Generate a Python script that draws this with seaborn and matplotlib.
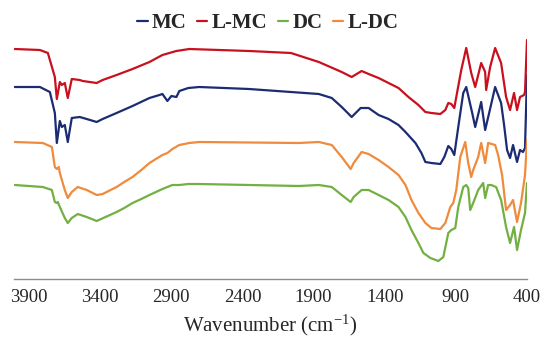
import pandas as pd
import matplotlib
matplotlib.use('Agg')
from matplotlib import pyplot as plt
import seaborn as sns


# FTIR spectra (stacked, arbitrary transmittance units)
mc_wn = [4000, 3823, 3753, 3718, 3704, 3683, 3669, 3648, 3627, 3599, 3543, 3494,
         3424, 3382, 3284, 3172, 3053, 2983, 2962, 2927, 2899, 2864, 2843, 2780,
         2703, 2353, 2059, 1863, 1772, 1702, 1632, 1569, 1513, 1443, 1373, 1303,
         1254, 1184, 1142, 1114, 1072, 1009, 981, 953, 932, 911, 883, 848, 827,
         785, 764, 722, 694, 666, 624, 582, 561, 540, 519, 498, 470, 449, 428,
         414, 400]
mc_t = [192, 192, 187, 166, 136, 158, 152, 154, 137, 161, 162, 160,
        157, 160, 166, 173, 181, 184, 185, 178, 183, 182, 188, 191,
        192, 190, 187, 185, 181, 172, 162, 171, 171, 164, 160, 154,
        147, 136, 126, 117, 116, 115, 122, 133, 130, 124, 152, 186, 192,
        166, 152, 177, 149, 166, 192, 176, 154, 129, 121, 134, 117, 129, 127,
        131, 204]

lmc_wn = [4000, 3823, 3767, 3718, 3704, 3683, 3669, 3648, 3627, 3599, 3543, 3522,
          3473, 3424, 3382, 3284, 3172, 3053, 2962, 2864, 2773, 2353, 2059, 1863,
          1702, 1632, 1562, 1513, 1443, 1373, 1303, 1233, 1163, 1114, 1072, 1009,
          974, 953, 932, 911, 897, 862, 827, 792, 764, 722, 694, 687, 659, 624,
          582, 547, 519, 491, 470, 449, 421, 414, 400]
lmc_t = [230, 229, 226, 202, 180, 197, 194, 196, 181, 200, 199, 198,
         197, 196, 199, 204, 210, 217, 224, 228, 230, 228, 226, 217,
         207, 202, 208, 205, 201, 196, 191, 182, 174, 167, 166, 165,
         169, 176, 175, 171, 182, 209, 231, 206, 192, 216, 207, 189, 212, 231,
         216, 182, 169, 186, 169, 182, 184, 187, 239]

dc_wn = [4000, 3802, 3739, 3718, 3704, 3697, 3683, 3648, 3627, 3599, 3557, 3494,
         3424, 3284, 3230, 3172, 3110, 3053, 2962, 2927, 2892, 2843, 2780, 2703,
         2003, 1863, 1772, 1702, 1639, 1618, 1562, 1513, 1443, 1373, 1303, 1254,
         1212, 1163, 1128, 1079, 1023, 988, 953, 932, 904, 883, 848, 827, 813,
         799, 778, 743, 708, 694, 673, 652, 617, 582, 547, 519, 491, 470, 442,
         414, 400]
dc_t = [94, 92, 89, 77, 76, 77, 72, 61, 56, 61, 65, 62,
        58, 67, 71, 76, 80, 84, 90, 92, 94, 94, 95, 95,
        93, 94, 92, 84, 77, 82, 89, 89, 84, 79, 72, 62,
        49, 36, 26, 21, 18, 22, 46, 49, 51, 72, 92, 94, 91,
        69, 76, 89, 96, 81, 94, 94, 92, 79, 52, 36, 52, 29, 49,
        66, 96]

ldc_wn = [4000, 3802, 3739, 3718, 3704, 3690, 3683, 3648, 3627, 3599, 3557, 3494,
          3424, 3382, 3284, 3230, 3172, 3110, 3053, 2962, 2927, 2892, 2843, 2773,
          2703, 2003, 1863, 1772, 1702, 1639, 1618, 1562, 1513, 1443, 1373, 1303,
          1254, 1212, 1163, 1114, 1072, 1009, 974, 939, 918, 897, 869, 834, 813,
          792, 778, 743, 722, 694, 673, 624, 603, 575, 547, 519, 498, 470, 442,
          414, 400]
ldc_t = [137, 136, 132, 112, 110, 112, 106, 89, 81, 87, 92, 89,
         84, 85, 92, 97, 102, 109, 116, 124, 126, 130, 134, 136,
         137, 136, 137, 134, 122, 110, 116, 127, 125, 119, 112, 104,
         94, 79, 66, 56, 51, 50, 56, 72, 76, 89, 122, 137, 116,
         102, 109, 122, 136, 116, 136, 134, 124, 104, 69, 74, 79, 57, 76,
         104, 139]

samples = ['MC', 'L-MC', 'DC', 'L-DC']
colors = ['#1B2C72', '#C8101E', '#72B043', '#F08A3C']
x_ticks = [3900, 3400, 2900, 2400, 1900, 1400, 900, 400]


def build_frame():
    parts = []
    for name, wn, t in [('MC', mc_wn, mc_t), ('L-MC', lmc_wn, lmc_t),
                        ('DC', dc_wn, dc_t), ('L-DC', ldc_wn, ldc_t)]:
        parts.append(pd.DataFrame({'wavenumber': wn, 'transmittance': t,
                                   'sample': name}))
    return pd.concat(parts, ignore_index=True)


def plot_spectra(data):
    sns.set_style('white')
    plt.rcParams['font.family'] = ['Liberation Serif', 'DejaVu Serif']
    plt.rcParams['mathtext.default'] = 'regular'

    fig = plt.figure(figsize=(5.42, 3.39), dpi=100)
    ax = fig.add_axes([14 / 542, 1 - 279 / 339, 513 / 542, 249 / 339])

    sns.lineplot(data=data, x='wavenumber', y='transmittance', hue='sample',
                 hue_order=samples, palette=colors, estimator=None,
                 linewidth=1.6, ax=ax)
    for line in ax.get_lines():
        line.set_solid_joinstyle('round')

    ax.set_xlim(4005, 400)
    ax.set_ylim(0, 249)
    ax.set_xticks(x_ticks)
    ax.set_xticklabels([str(t) for t in x_ticks], fontsize=13.5)
    ax.set_yticks([])
    ax.set_ylabel('')
    ax.set_xlabel('Wavenumber (cm$^{-1}$)', fontsize=15, labelpad=5)

    for side in ['top', 'left', 'right']:
        ax.spines[side].set_visible(False)
    ax.spines['bottom'].set_color('#8C8C8C')
    ax.spines['bottom'].set_linewidth(1.0)
    ax.tick_params(axis='x', direction='out', length=4, width=1,
                   color='#8C8C8C', pad=3)

    sns.move_legend(ax, 'center', bbox_to_anchor=(0.494, 1 - 23 / 339),
                    bbox_transform=fig.transFigure, ncol=4, frameon=False,
                    title=None, handlelength=0.5, handletextpad=0.2,
                    columnspacing=0.5, prop={'weight': 'bold', 'size': 15})

    fig.savefig('out.png', dpi=100)


if __name__ == '__main__':
    spectra = build_frame()
    plot_spectra(spectra)
